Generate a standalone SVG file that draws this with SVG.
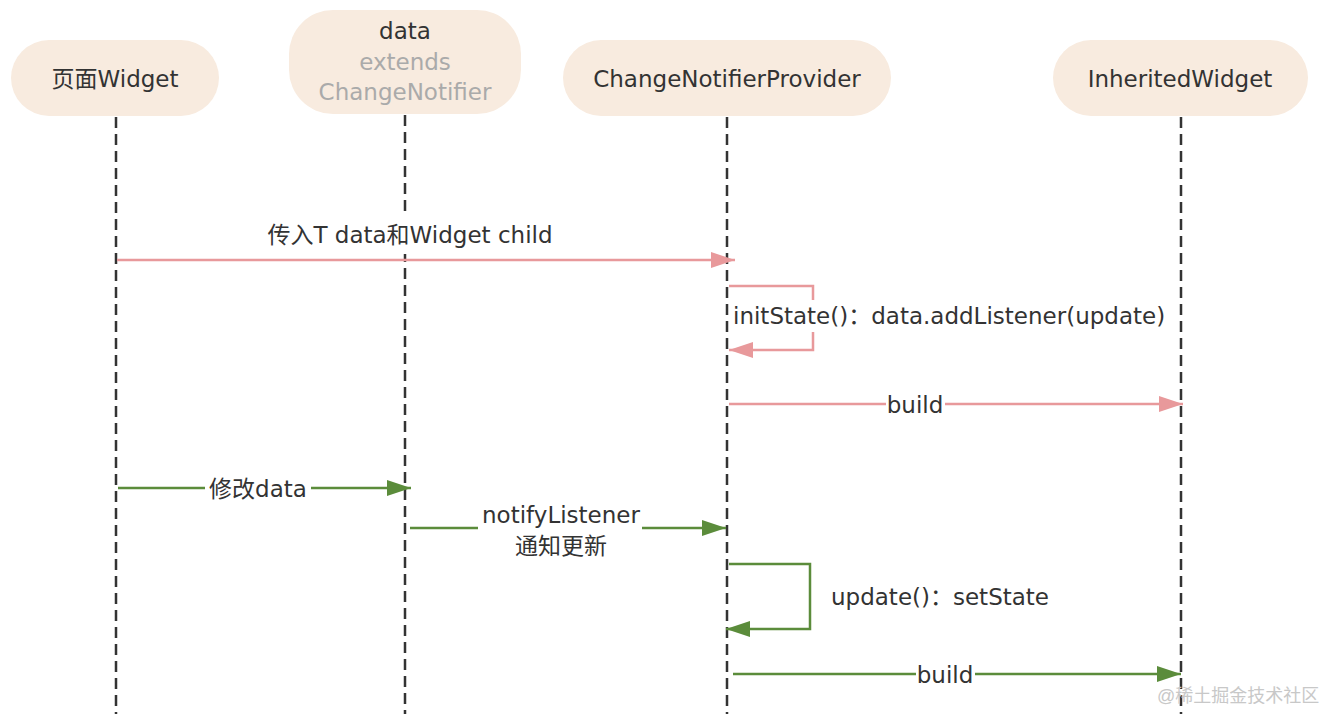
<svg xmlns="http://www.w3.org/2000/svg" width="1326" height="714" viewBox="0 0 1326 714">
<style>
.node{fill:#f8ebdf;}
.t{font-family:"DejaVu Sans","Noto Sans CJK SC",sans-serif;font-size:23px;fill:#333;text-anchor:middle;}
.ts{text-anchor:start;}
.grey{fill:#aaa;}
.life{stroke:#333;stroke-width:2.5;stroke-dasharray:11 6;fill:none;}
.pink{stroke:#e8999b;stroke-width:2.5;fill:none;}
.green{stroke:#5b8c3b;stroke-width:2.5;fill:none;}
.bg{fill:#fff;}
.wm{font-family:"Liberation Sans","Noto Sans CJK SC",sans-serif;font-size:18px;fill:#c8c8c8;}
</style>
<defs>
<marker id="ap" markerUnits="userSpaceOnUse" markerWidth="26" markerHeight="18" refX="24" refY="8" orient="auto"><path d="M0,0 L24,8 L0,16 z" fill="#e8999b"/></marker>
<marker id="ag" markerUnits="userSpaceOnUse" markerWidth="26" markerHeight="18" refX="24" refY="8" orient="auto"><path d="M0,0 L24,8 L0,16 z" fill="#5b8c3b"/></marker>
</defs>
<rect width="1326" height="714" fill="#fff"/>
<g id="lifelines">
<line class="life" x1="116" y1="117" x2="116" y2="714"/>
<line class="life" x1="405" y1="115" x2="405" y2="714"/>
<line class="life" x1="727" y1="117" x2="727" y2="714"/>
<line class="life" x1="1181" y1="117" x2="1181" y2="714"/>
</g>
<g id="node-page">
<rect class="node" x="11" y="40" width="208" height="76" rx="38"/>
<text class="t" x="115" y="87">页面Widget</text>
</g>
<g id="node-data">
<rect class="node" x="289" y="10" width="232" height="104" rx="44"/>
<text class="t" x="405" y="39">data</text>
<text class="t grey" x="405" y="70">extends</text>
<text class="t grey" x="405" y="100">ChangeNotifier</text>
</g>
<g id="node-provider">
<rect class="node" x="563" y="40" width="328" height="76" rx="38"/>
<text class="t" x="727" y="87">ChangeNotifierProvider</text>
</g>
<g id="node-inherited">
<rect class="node" x="1053" y="40" width="255" height="76" rx="38"/>
<text class="t" x="1180" y="87">InheritedWidget</text>
</g>
<g id="connectors">
<rect class="bg" x="262" y="217" width="298" height="37"/>
<line class="pink" x1="117" y1="260" x2="735" y2="260" marker-end="url(#ap)"/>
<text class="t" x="410" y="243">传入T data和Widget child</text>
<path class="pink" d="M729,286 H813 V350 H729" marker-end="url(#ap)"/>
<rect class="bg" x="731" y="300" width="432" height="32"/>
<text class="t ts" x="733" y="324">initState()：data.addListener(update)</text>
<line class="pink" x1="729" y1="404" x2="1183" y2="404" marker-end="url(#ap)"/>
<rect class="bg" x="886" y="392" width="59" height="26"/>
<text class="t" x="915" y="413">build</text>
<line class="green" x1="118" y1="488" x2="411" y2="488" marker-end="url(#ag)"/>
<rect class="bg" x="205" y="476" width="106" height="28"/>
<text class="t" x="258" y="497">修改data</text>
<line class="green" x1="410" y1="528" x2="726" y2="528" marker-end="url(#ag)"/>
<rect class="bg" x="478" y="503" width="164" height="56"/>
<text class="t" x="561" y="523">notifyListener</text>
<text class="t" x="561" y="554">通知更新</text>
<path class="green" d="M729,564 H810 V629 H726" marker-end="url(#ag)"/>
<text class="t ts" x="831" y="605">update()：setState</text>
<line class="green" x1="733" y1="674" x2="1181" y2="674" marker-end="url(#ag)"/>
<rect class="bg" x="916" y="662" width="59" height="26"/>
<text class="t" x="945" y="683">build</text>
</g>
<text class="wm" x="1157" y="702">@稀土掘金技术社区</text>
</svg>
